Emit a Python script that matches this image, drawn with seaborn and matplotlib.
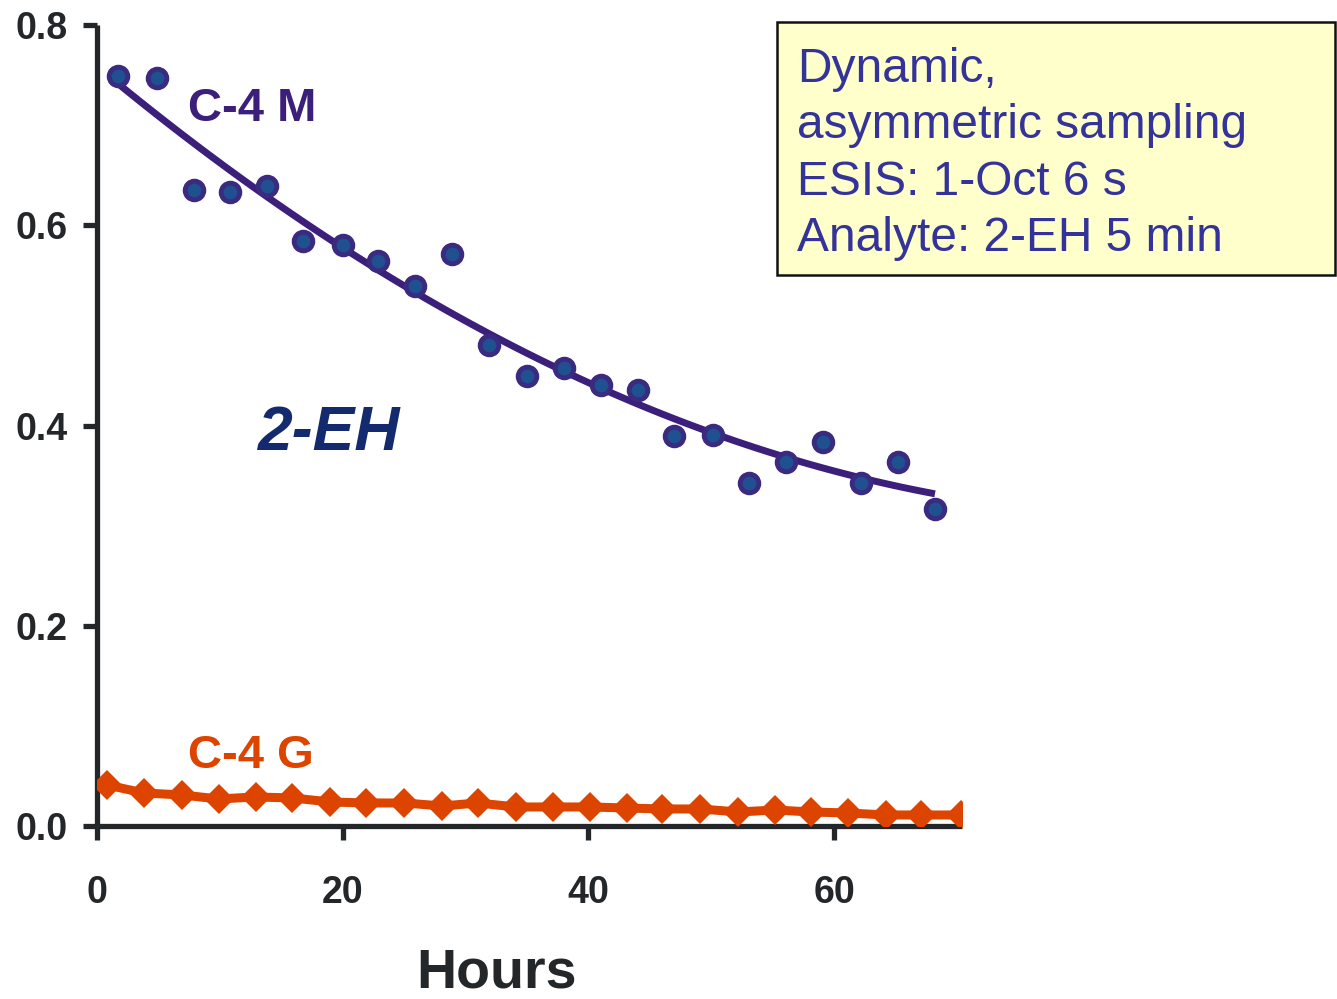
import matplotlib
matplotlib.use("Agg")
import matplotlib.pyplot as plt
import seaborn as sns
import pandas as pd
from matplotlib.patches import Rectangle

# ---- data ----
m_hours = [1.7, 4.9, 7.9, 10.8, 13.8, 16.8, 20.0, 22.9, 25.9, 28.9, 31.9, 35.0,
           38.0, 41.0, 44.0, 47.0, 50.1, 53.1, 56.1, 59.1, 62.2, 65.2, 68.2]
m_values = [0.749, 0.747, 0.635, 0.633, 0.639, 0.584, 0.580, 0.564, 0.539, 0.571,
            0.480, 0.449, 0.457, 0.440, 0.435, 0.390, 0.391, 0.343, 0.364, 0.384,
            0.343, 0.364, 0.317]
g_hours = [0.8, 3.8, 6.9, 9.9, 12.9, 15.9, 19.0, 21.9, 25.0, 28.1, 31.0, 34.1,
           37.1, 40.1, 43.1, 46.0, 49.1, 52.2, 55.2, 58.1, 61.1, 64.2, 67.1, 70.3]
g_values = [0.041, 0.033, 0.031, 0.027, 0.029, 0.028, 0.024, 0.023, 0.023, 0.020,
            0.023, 0.019, 0.019, 0.019, 0.018, 0.017, 0.017, 0.014, 0.016, 0.014,
            0.013, 0.011, 0.011, 0.011]
x_ticks = [0, 20, 40, 60]
y_ticks = [0.0, 0.2, 0.4, 0.6, 0.8]
y_ticklabels = ["0.0", "0.2", "0.4", "0.6", "0.8"]
box_lines = ["Dynamic,", "asymmetric sampling", "ESIS: 1-Oct 6 s", "Analyte: 2-EH 5 min"]

dfm = pd.DataFrame({"Hours": m_hours, "Value": m_values})
dfg = pd.DataFrame({"Hours": g_hours, "Value": g_values})

sns.set_theme(style="ticks")
plt.rcParams["font.family"] = ["Liberation Sans", "DejaVu Sans"]

W, H = 1337, 999
fig = plt.figure(figsize=(W / 100, H / 100), dpi=100)
ax = fig.add_axes([97 / W, 1 - 826 / H, (962 - 97) / W, (826 - 25) / H])

purple = "#3b1f7a"
orange = "#dd4400"
dark = "#23272a"

# C-4 M points and trend
sns.regplot(data=dfm, x="Hours", y="Value", order=2, ci=None, scatter=False,
            ax=ax, line_kws=dict(color=purple, lw=5, solid_capstyle="butt"))
sns.scatterplot(data=dfm, x="Hours", y="Value", ax=ax, marker="o", s=180,
                color="#1f5090", edgecolor="#3a2a80", linewidth=3.5, zorder=3)

# C-4 G
sns.lineplot(data=dfg, x="Hours", y="Value", ax=ax, color=orange, lw=6.5,
             marker="D", markersize=15, markeredgewidth=0, zorder=4)

ax.set_xlim(0, 70.4)
ax.set_ylim(0, 0.8)
ax.set_xticks(x_ticks)
ax.set_yticks(y_ticks)
ax.set_yticklabels(y_ticklabels)
for s in ["top", "right"]:
    ax.spines[s].set_visible(False)
for s in ["left", "bottom"]:
    ax.spines[s].set_linewidth(3.8)
    ax.spines[s].set_color(dark)
    ax.spines[s].set_capstyle("butt")
ax.tick_params(axis="both", direction="out", length=10, width=3.8, color=dark,
               labelsize=27, labelcolor=dark)
ax.tick_params(axis="y", pad=11)
ax.tick_params(axis="x", pad=25)
for lab in ax.get_xticklabels() + ax.get_yticklabels():
    lab.set_fontweight("bold")

ax.set_ylabel("")
ax.set_xlabel("Hours", fontsize=40, fontweight="bold", color=dark)
ax.xaxis.set_label_coords((497 - 97) / (962 - 97), (826 - 973) / (826 - 25))
ax.xaxis.label.set_va("center")

ax.text(12.6, 0.716, "C-4 M", fontsize=34, fontweight="bold", color=purple,
        ha="center", va="center")
ax.text(18.9, 0.392, "2-EH", fontsize=45, fontweight="bold", style="italic",
        color="#142a6e", ha="center", va="center")
ax.text(12.5, 0.07, "C-4 G", fontsize=34, fontweight="bold", color=orange,
        ha="center", va="center")

# info box
fig.patches.append(Rectangle((777 / W, 1 - 275 / H), (1335 - 777) / W, (275 - 22) / H,
                             transform=fig.transFigure, facecolor="#ffffcc",
                             edgecolor="#111111", linewidth=1.8, zorder=1))
baselines = [82, 138, 195, 251]
for line, b in zip(box_lines, baselines):
    fig.text(797 / W, 1 - b / H, line, fontsize=34.5, color="#333399",
             ha="left", va="baseline", zorder=2)

fig.savefig("out.png", dpi=100)
